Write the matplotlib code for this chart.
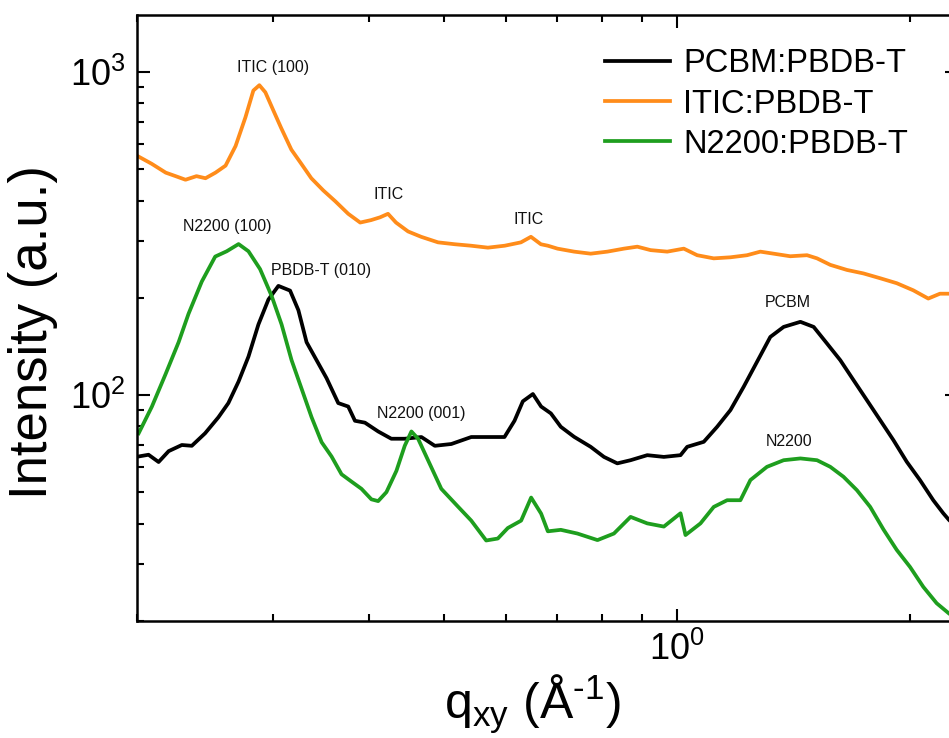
import matplotlib
matplotlib.use("Agg")
import matplotlib.pyplot as plt
from matplotlib.ticker import LogLocator, NullFormatter, LogFormatterSciNotation

plt.rcParams['font.family'] = ['Liberation Sans', 'DejaVu Sans']
plt.rcParams['mathtext.fontset'] = 'custom'
plt.rcParams['mathtext.rm'] = 'Liberation Sans'
plt.rcParams['mathtext.it'] = 'Liberation Sans:italic'
plt.rcParams['mathtext.bf'] = 'Liberation Sans:bold'

# GIWAXS in-plane line cuts
q_pcbm = [0.2012, 0.2072, 0.2135, 0.2200, 0.2288, 0.2357, 0.2452, 0.2551, 0.2628, 0.2709,
          0.2790, 0.2874, 0.2961, 0.3050, 0.3158, 0.3237, 0.3317, 0.3417, 0.3520, 0.3645,
          0.3755, 0.3831, 0.3946, 0.4105, 0.4269, 0.4443, 0.4669, 0.4859, 0.5104, 0.5416,
          0.5691, 0.5979, 0.6160, 0.6315, 0.6507, 0.6668, 0.6865, 0.7071, 0.7357, 0.7728,
          0.8040, 0.8366, 0.8703, 0.9147, 0.9610, 1.0099, 1.0302, 1.0822, 1.1261, 1.1717,
          1.2187, 1.2682, 1.3194, 1.3728, 1.4430, 1.5012, 1.5618, 1.6249, 1.6902, 1.7588,
          1.8297, 1.9033, 1.9806, 2.0601, 2.1432, 2.2080, 2.2460, 2.30]
i_pcbm = [64.6, 65.4, 62.1, 67.1, 70.1, 69.7, 76.2, 85.4, 94.5, 110.2,
          131.6, 165.5, 197.7, 217.8, 210.6, 183.2, 145.8, 128.3, 112.9, 94.5,
          92.2, 83.3, 82.2, 77.2, 73.3, 73.3, 74.2, 69.7, 70.6, 74.2,
          74.2, 74.2, 83.3, 95.7, 100.8, 92.2, 87.8, 79.8, 74.3, 69.2,
          64.4, 61.5, 62.9, 65.2, 64.4, 65.2, 69.2, 71.7, 79.8, 89.9,
          106.1, 126.8, 151.4, 162.6, 168.6, 162.6, 144.5, 128.3, 111.3, 96.5,
          83.7, 72.6, 62.2, 54.6, 47.3, 43.1, 41.1, 39.0]

q_itic = [0.2012, 0.2091, 0.2181, 0.2246, 0.2313, 0.2390, 0.2455, 0.2529, 0.2606, 0.2685,
          0.2765, 0.2831, 0.2882, 0.2934, 0.3004, 0.3076, 0.3170, 0.3265, 0.3364, 0.3486,
          0.3613, 0.3755, 0.3891, 0.4019, 0.4128, 0.4227, 0.4329, 0.4487, 0.4665, 0.4906,
          0.5160, 0.5411, 0.5691, 0.5984, 0.6279, 0.6469, 0.6664, 0.6803, 0.7001, 0.7357,
          0.7728, 0.8122, 0.8534, 0.8880, 0.9238, 0.9707, 1.0198, 1.0612, 1.1149, 1.1717,
          1.2311, 1.2808, 1.3323, 1.4001, 1.4718, 1.5162, 1.5773, 1.6576, 1.7413, 1.8297,
          1.9223, 2.0198, 2.1116, 2.1863, 2.2460, 2.30]
i_itic = [547, 520, 488, 476, 464, 476, 469, 488, 513, 590,
          724, 876, 910, 865, 761, 670, 575, 520, 469, 430,
          398, 364, 342, 348, 355, 364, 342, 321, 309, 297,
          293, 290, 286, 290, 297, 309, 293, 290, 284, 278,
          274, 278, 284, 288, 281, 278, 284, 271, 265, 267,
          271, 278, 274, 269, 271, 265, 253, 244, 238, 230,
          222, 211, 199, 206, 206, 204]

q_n2200 = [0.2012, 0.2093, 0.2179, 0.2266, 0.2334, 0.2428, 0.2527, 0.2615, 0.2709, 0.2790,
           0.2888, 0.2989, 0.3079, 0.3172, 0.3268, 0.3367, 0.3469, 0.3573, 0.3681, 0.3792,
           0.3906, 0.4023, 0.4105, 0.4207, 0.4334, 0.4443, 0.4532, 0.4623, 0.4762, 0.4954,
           0.5206, 0.5416, 0.5662, 0.5862, 0.6039, 0.6283, 0.6473, 0.6668, 0.6803, 0.7071,
           0.7430, 0.7887, 0.8282, 0.8703, 0.9147, 0.9610, 1.0099, 1.0249, 1.0717, 1.1149,
           1.1602, 1.2070, 1.2434, 1.3062, 1.3728, 1.4430, 1.5162, 1.5773, 1.6406, 1.7075,
           1.7763, 1.8479, 1.9223, 2.0000, 2.0808, 2.1651, 2.2460, 2.30]
i_n2200 = [76.2, 92.2, 115.9, 145.8, 178.5, 224.6, 268.4, 278.7, 293.4, 278.7,
           245.5, 202.8, 165.5, 128.3, 104.7, 85.4, 71.5, 64.6, 56.9, 54.0,
           51.3, 47.6, 47.0, 50.1, 58.3, 69.7, 77.2, 73.3, 62.9, 51.3,
           45.2, 40.9, 35.5, 36.0, 38.8, 40.9, 48.2, 43.0, 37.9, 38.3,
           37.3, 35.6, 37.3, 42.0, 40.1, 39.2, 43.1, 36.9, 40.1, 45.1,
           47.3, 47.3, 54.6, 60.0, 62.9, 63.7, 62.9, 60.0, 55.9, 50.8,
           45.1, 38.4, 33.2, 29.4, 25.5, 22.7, 21.1, 20.3]

series_labels = ["PCBM:PBDB-T", "ITIC:PBDB-T", "N2200:PBDB-T"]
series_colors = ["#000000", "#FF8C1A", "#1E9E1E"]

# peak assignments: (text, q, intensity)
peak_texts = ["ITIC (100)", "ITIC", "ITIC", "N2200 (100)", "PBDB-T (010)",
              "N2200 (001)", "PCBM", "N2200"]
peak_q = [0.3004, 0.4240, 0.6429, 0.2622, 0.3460, 0.4665, 1.392, 1.396]
peak_i = [1034, 418.6, 348.7, 333.2, 242.4, 87.6, 194.0, 71.7]

fig = plt.figure(figsize=(9.49, 7.38), dpi=100)
ax = fig.add_axes([0.1440, 0.1585, 0.8644, 0.8211])

lw = 2.7
ax.plot(q_pcbm, i_pcbm, color=series_colors[0], lw=lw, label=series_labels[0])
ax.plot(q_itic, i_itic, color=series_colors[1], lw=lw, label=series_labels[1])
ax.plot(q_n2200, i_n2200, color=series_colors[2], lw=lw, label=series_labels[2])

ax.set_xscale('log')
ax.set_yscale('log')
ax.set_xlim(0.2, 2.30)
ax.set_ylim(20, 1500)

ax.xaxis.set_major_locator(LogLocator(base=10, subs=(1.0,)))
ax.xaxis.set_minor_locator(LogLocator(base=10, subs=tuple(range(2, 10))))
ax.yaxis.set_major_locator(LogLocator(base=10, subs=(1.0,)))
ax.yaxis.set_minor_locator(LogLocator(base=10, subs=tuple(range(2, 10))))
ax.xaxis.set_major_formatter(LogFormatterSciNotation())
ax.yaxis.set_major_formatter(LogFormatterSciNotation())
ax.xaxis.set_minor_formatter(NullFormatter())
ax.yaxis.set_minor_formatter(NullFormatter())

ax.tick_params(which='both', direction='in', top=True, right=True, width=1.5)
ax.tick_params(which='major', length=9, labelsize=26)
ax.tick_params(which='minor', length=5)
ax.tick_params(axis='y', which='major', pad=8)
ax.tick_params(axis='x', which='major', pad=8)
for s in ax.spines.values():
    s.set_linewidth(1.8)

ax.set_xlabel('q$_{\\mathregular{xy}}$ (Å$^{\\text{-1}}$)', fontsize=36)
ax.xaxis.set_label_coords(0.482, -0.085)
ax.set_ylabel('Intensity (a.u.)', fontsize=38)
ax.yaxis.set_label_coords(-0.096, 0.477)

for t, qx, iy in zip(peak_texts, peak_q, peak_i):
    ax.text(qx, iy, t, fontsize=11.5, ha='center', va='center', color='#111111')

ax.legend(loc='upper left', bbox_to_anchor=(0.571, 0.945), frameon=False,
          fontsize=23.5, handlelength=2.0, handletextpad=0.4, labelspacing=0.28,
          borderpad=0, borderaxespad=0)

fig.savefig('out.png', dpi=100)
